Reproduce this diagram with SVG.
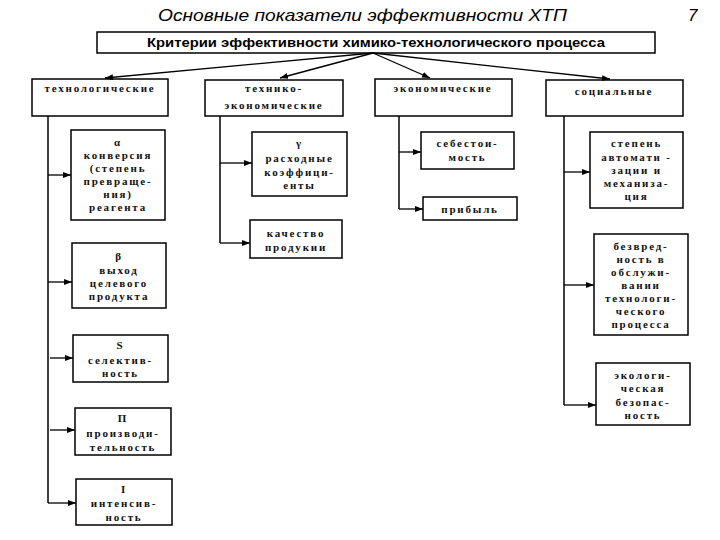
<svg xmlns="http://www.w3.org/2000/svg" width="720" height="540" viewBox="0 0 720 540">
<defs>
<marker id="ah" markerWidth="8" markerHeight="6" refX="8" refY="3" orient="auto" markerUnits="userSpaceOnUse">
<path d="M0,0 L8,3 L0,6 Z" fill="#000"/>
</marker>
<style>
.box{fill:#fff;stroke:#000;stroke-width:1.5}
.t{font-family:"Liberation Serif","Times New Roman",serif;font-weight:bold;font-size:11px;letter-spacing:1.8px;text-anchor:middle;fill:#111}
.ln{fill:none;stroke:#000;stroke-width:1.5}
.ar{fill:none;stroke:#000;stroke-width:1.3;marker-end:url(#ah)}
.title{font-family:"Liberation Sans",Arial,sans-serif;font-style:italic;font-size:17px;fill:#000}
.hdr{font-family:"Liberation Sans",Arial,sans-serif;font-weight:bold;font-size:13px;fill:#000}
</style>
</defs>
<rect width="720" height="540" fill="#fff"/>
<text class="title" x="158" y="21" textLength="409" lengthAdjust="spacingAndGlyphs">Основные показатели эффективности ХТП</text>
<text class="title" x="688" y="21">7</text>

<g id="root">
<rect class="box" x="97" y="32" width="558" height="21"/>
<text class="hdr" x="147" y="47" textLength="458" lengthAdjust="spacingAndGlyphs">Критерии эффективности химико-технологического процесса</text>
</g>

<g id="cat1"><rect class="box" x="32" y="79" width="136" height="37"/><text class="t" x="100" y="92">технологические</text></g>
<g id="cat2"><rect class="box" x="205" y="80" width="138" height="36"/><text class="t" x="274" y="92">технико-</text><text class="t" x="274" y="109">экономические</text></g>
<g id="cat3"><rect class="box" x="375" y="79" width="137" height="37"/><text class="t" x="443" y="92">экономические</text></g>
<g id="cat4"><rect class="box" x="546" y="80" width="137" height="36"/><text class="t" x="614" y="95">социальные</text></g>

<g id="alpha"><rect class="box" x="71" y="130" width="94" height="90"/>
<text class="t" x="118" y="146">α</text><text class="t" x="118" y="159">конверсия</text><text class="t" x="118" y="172">(степень</text><text class="t" x="118" y="185">превраще-</text><text class="t" x="118" y="198">ния)</text><text class="t" x="118" y="211">реагента</text></g>
<g id="beta"><rect class="box" x="72" y="243" width="94" height="65"/>
<text class="t" x="119" y="260">β</text><text class="t" x="119" y="274">выход</text><text class="t" x="119" y="287">целевого</text><text class="t" x="119" y="300">продукта</text></g>
<g id="sel"><rect class="box" x="73" y="335" width="95" height="47"/>
<text class="t" x="120.5" y="349">S</text><text class="t" x="120.5" y="364">селектив-</text><text class="t" x="120.5" y="377">ность</text></g>
<g id="prod"><rect class="box" x="75" y="408" width="96" height="47"/>
<text class="t" x="123" y="422">П</text><text class="t" x="123" y="437">производи-</text><text class="t" x="123" y="451">тельность</text></g>
<g id="int"><rect class="box" x="76" y="479" width="96" height="46"/>
<text class="t" x="124" y="493">I</text><text class="t" x="124" y="507">интенсив-</text><text class="t" x="124" y="521">ность</text></g>

<g id="gamma"><rect class="box" x="252" y="132" width="95" height="64"/>
<text class="t" x="299.5" y="147">γ</text><text class="t" x="299.5" y="162">расходные</text><text class="t" x="299.5" y="176">коэффици-</text><text class="t" x="299.5" y="189">енты</text></g>
<g id="quality"><rect class="box" x="250" y="220" width="92" height="38"/>
<text class="t" x="296" y="237">качество</text><text class="t" x="296" y="251">продукии</text></g>

<g id="cost"><rect class="box" x="421" y="132" width="93" height="37"/>
<text class="t" x="467.5" y="147">себестои-</text><text class="t" x="467.5" y="161">мость</text></g>
<g id="profit"><rect class="box" x="423" y="197" width="94" height="23"/>
<text class="t" x="470" y="213">прибыль</text></g>

<g id="auto"><rect class="box" x="590" y="132" width="93" height="76"/>
<text class="t" x="636.5" y="147">степень</text><text class="t" x="636.5" y="161">автомати -</text><text class="t" x="636.5" y="174">зации и</text><text class="t" x="636.5" y="187">механиза-</text><text class="t" x="636.5" y="200">ция</text></g>
<g id="safe"><rect class="box" x="594" y="234" width="94" height="101"/>
<text class="t" x="641" y="250">безвред-</text><text class="t" x="641" y="263">ность в</text><text class="t" x="641" y="276">обслужи-</text><text class="t" x="641" y="289">вании</text><text class="t" x="641" y="302">технологи-</text><text class="t" x="641" y="315">ческого</text><text class="t" x="641" y="328">процесса</text></g>
<g id="eco"><rect class="box" x="596" y="363" width="94" height="62"/>
<text class="t" x="643" y="379">экологи-</text><text class="t" x="643" y="392">ческая</text><text class="t" x="643" y="406">безопас-</text><text class="t" x="643" y="419">ность</text></g>

<g id="connectors">
<line class="ar" x1="373" y1="53" x2="105" y2="78"/>
<line class="ar" x1="373" y1="53" x2="280" y2="78"/>
<line class="ar" x1="373" y1="53" x2="430" y2="78"/>
<line class="ar" x1="373" y1="53" x2="610" y2="79"/>

<path class="ln" d="M48,116 V503"/>
<line class="ar" x1="48" y1="175" x2="71" y2="175"/>
<line class="ar" x1="48" y1="282" x2="72" y2="282"/>
<line class="ar" x1="50" y1="358" x2="73" y2="358"/>
<line class="ar" x1="50" y1="430" x2="75" y2="430"/>
<line class="ar" x1="48" y1="503" x2="76" y2="503"/>

<path class="ln" d="M220,116 V243"/>
<line class="ar" x1="220" y1="163" x2="252" y2="163"/>
<line class="ar" x1="220" y1="243" x2="250" y2="243"/>

<path class="ln" d="M399,116 V209"/>
<line class="ar" x1="399" y1="152" x2="421" y2="152"/>
<line class="ar" x1="399" y1="209" x2="423" y2="209"/>

<path class="ln" d="M564,116 V405"/>
<line class="ar" x1="564" y1="172" x2="590" y2="172"/>
<line class="ar" x1="564" y1="285" x2="594" y2="285"/>
<line class="ar" x1="564" y1="405" x2="596" y2="405"/>
</g>
</svg>
